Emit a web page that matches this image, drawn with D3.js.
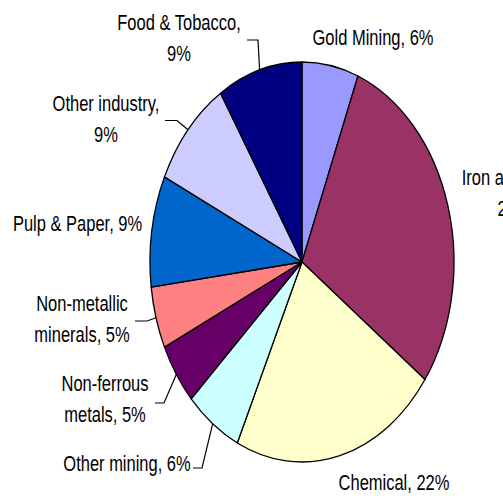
<!DOCTYPE html>
<html>
<head>
<meta charset="utf-8">
<script src="https://cdn.jsdelivr.net/npm/d3@7"></script>
<style>
  html, body { margin: 0; padding: 0; background: #fff; }
  svg { display: block; }
</style>
</head>
<body>
<svg id="chart" width="503" height="496"></svg>
<script>
// ---- data ----
const categories = ["Gold Mining", "Iron and steel", "Chemical", "Other mining", "Non-ferrous metals",
  "Non-metallic minerals", "Pulp & Paper", "Other industry", "Food & Tobacco"];
const shares = [6, 29, 22, 6, 5, 5, 9, 9, 9];
const labelLines = [
  ["Gold Mining, 6%"],
  ["Iron and steel,", "29%"],
  ["Chemical, 22%"],
  ["Other mining, 6%"],
  ["Non-ferrous", "metals, 5%"],
  ["Non-metallic", "minerals, 5%"],
  ["Pulp & Paper, 9%"],
  ["Other industry,", "9%"],
  ["Food & Tobacco,", "9%"]
];
const colors = ["#9999FF", "#993366", "#FFFFCC", "#CCFFFF", "#660066", "#FF8080", "#0066CC", "#CCCCFF", "#000080"];

// ---- layout ----
const W = 503, H = 496;
const cx = 302, cy = 262, R = 152, ky = 200 / 152;
const fontSize = 16.5, lineH = 31;
// label anchor: [center x, first baseline y]; leader: [start, elbow] or null
const labelPos = [
  [373, 45], [514, 185], [394, 490], [127, 471], [105, 391],
  [82, 311], [77.5, 231], [106, 111], [179, 30]
];
const leaders = [
  null, null, null,
  [[193, 468], [202, 468]],
  [[155, 403], [164, 403]],
  [[135, 321], [147, 321]],
  null,
  [[165, 120.5], [177, 120.5]],
  [[247, 40], [258, 40]]
];

const svg = d3.select("#chart");
const pie = d3.pie().sort(null).value(d => d).startAngle(0).endAngle(2 * Math.PI);
const arcs = pie(shares);
const arc = d3.arc().innerRadius(0).outerRadius(R);

const g = svg.append("g").attr("transform", `translate(${cx},${cy}) scale(1,${ky})`);
g.selectAll("path").data(arcs).join("path")
  .attr("d", arc)
  .attr("fill", (d, i) => colors[i])
  .attr("stroke", "#000")
  .attr("stroke-width", 1.3)
  .attr("vector-effect", "non-scaling-stroke")
  .attr("stroke-linejoin", "round");

// leader lines
arcs.forEach((d, i) => {
  const L = leaders[i];
  if (!L) return;
  const a = (d.startAngle + d.endAngle) / 2;
  const px = cx + R * Math.sin(a), py = cy - R * ky * Math.cos(a);
  svg.append("polyline")
    .attr("points", [L[0], L[1], [px, py]].map(p => p.join(",")).join(" "))
    .attr("fill", "none").attr("stroke", "#000").attr("stroke-width", 1.2);
});

// labels
labelLines.forEach((lines, i) => {
  const [x, y] = labelPos[i];
  lines.forEach((t, j) => {
    svg.append("text")
      .attr("transform", `translate(${x},${y + j * lineH}) scale(1,${ky})`)
      .attr("text-anchor", "middle")
      .attr("font-family", "'Liberation Sans', Arial, sans-serif")
      .attr("font-size", fontSize)
      .attr("fill", "#000")
      .text(t);
  });
});
</script>
</body>
</html>
